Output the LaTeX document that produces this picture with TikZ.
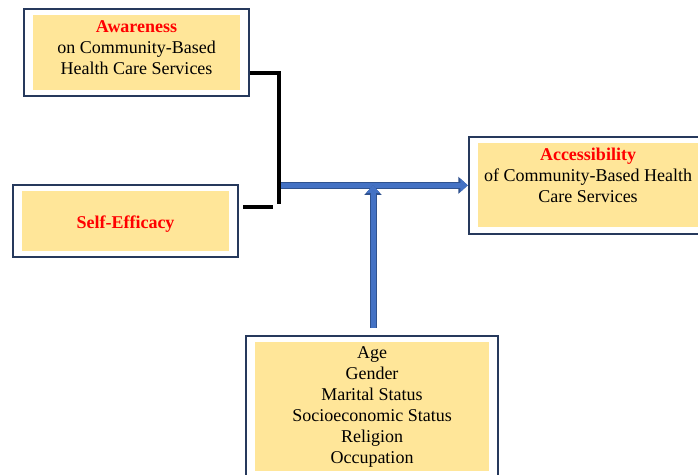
\documentclass[tikz,border=0pt]{standalone}
\usepackage{fontspec}
\setmainfont{Liberation Serif}
\usetikzlibrary{arrows.meta,positioning,fit,calc}
\definecolor{boxfill}{HTML}{FFE699}
\definecolor{framenavy}{HTML}{26395C}
\definecolor{arrowblue}{HTML}{4472C4}
\definecolor{arrowedge}{HTML}{2F528F}
\definecolor{headred}{HTML}{FF0000}

\tikzset{
  factor/.style={fill=boxfill, align=center, inner sep=0pt,
    font=\fontsize{18}{21}\selectfont},
  frame/.style={draw=framenavy, line width=2pt, inner xsep=9pt, inner ysep=6pt},
  bracket/.style={line width=4pt},
  flow/.style={arrowblue, line width=5pt, -{Triangle[length=7.5pt,width=13pt]},
    preaction={draw=arrowedge, line width=7pt, -{Triangle[length=9.5pt,width=16.5pt]}}},
}
\newcommand{\headword}[1]{\textcolor{headred}{\textbf{#1}}}

\begin{document}
\begin{tikzpicture}[x=1pt,y=-1pt]
  \useasboundingbox (0,0) rectangle (698,474);
  % factors and outcome
  \node[factor, minimum width=207pt, minimum height=75pt, text height=45pt, text depth=1.4pt]
    (aware) at (136.5,52.5) {\headword{Awareness}\\on Community-Based\\Health Care Services};
  \node[factor, minimum width=207pt, minimum height=60pt, text height=14pt, text depth=0pt]
    (selfeff) at (125.5,221) {\headword{Self-Efficacy}};
  \node[factor, minimum width=220pt, minimum height=84pt, text height=35pt, text depth=1.6pt]
    (access) at (588,185.3) {\headword{Accessibility}\\of Community-Based Health\\Care Services};
  \node[factor, minimum width=234pt, minimum height=128.4pt]
    (demog) at (372,406.5) {Age\\Gender\\Marital Status\\Socioeconomic Status\\Religion\\Occupation};
  \node[frame, fit=(aware)] (awarebox) {};
  \node[frame, fit=(selfeff)] (selfbox) {};
  \node[frame, fit=(access)] (accessbox) {};
  \node[frame, fit=(demog)] (demogbox) {};

  % links
  \coordinate (knee) at (279,73);
  \coordinate (foot) at (279,204);
  \coordinate (tail) at (273,206.5);
  \coordinate (rise) at (373,328);
  \draw[flow] (knee |- accessbox.west) -- (accessbox.west);
  \draw[flow] (rise) -- (rise |- accessbox.west);
  \draw[bracket] (knee -| awarebox.east) -- (knee) -- (foot);
  \draw[bracket] ($(selfbox.east |- tail)+(4,0)$) -- (tail);
\end{tikzpicture}
\end{document}
